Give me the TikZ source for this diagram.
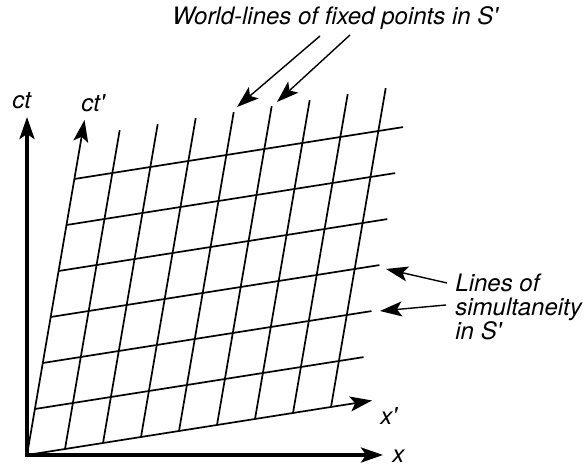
\documentclass[tikz,border=0pt]{standalone}
\usepackage{fontspec}
\setmainfont{TeX Gyre Heros}
\usetikzlibrary{arrows.meta}

\begin{document}
\begin{tikzpicture}[
    x=0.5pt,
    y=0.5pt,
    >={Stealth[length=11pt, width=7.5pt, inset=2.5pt]},
    gridline/.style={line width=0.85pt},
    axis/.style={line width=1.7pt},
    pointer/.style={line width=0.7pt},
    axislabel/.style={
        font=\fontsize{12}{12}\selectfont\itshape,
        inner sep=0pt,
        anchor=base west
    },
    note/.style={
        axislabel,
        align=left
    }
]
\useasboundingbox (0,0) rectangle (588,470);

% frame S
\coordinate (origin) at (27,15);
\coordinate (ctend) at (27,353);
\coordinate (xend) at (383,15);
% frame S'
\coordinate (ctpend) at (84.5,350);
\coordinate (xpend) at (372,69.5);

% world-lines and lines of simultaneity
\foreach \k in {1,...,8}
    \draw[gridline] (27+38*\k, 15+6*\k) -- ++(54.7,318.8);
\foreach \j in {1,...,6}
    \draw[gridline] (27+7.9*\j, 15+46*\j) -- ++(328.7,51.9);

\draw[gridline, ->] (origin) -- (ctpend);
\draw[gridline, ->] (origin) -- (xpend);
\draw[axis, <->] (ctend) |- (xend);

\node[axislabel] (ct) at (12,361) {ct};
\node[axislabel] (ctp) at (81,358) {ct\textquotesingle};
\node[axislabel] (xp) at (380,45) {x\textquotesingle};
\node[axislabel] (x) at (392,7) {x};

\node[axislabel] (title) at (172,445) {World-lines of fixed points in S\textquotesingle};
\node[note] (simnote) at (455,130) {Lines of\\simultaneity\\in S\textquotesingle};

\coordinate (wtail1) at (320,434);
\coordinate (wtip1) at (237,363);
\coordinate (wtail2) at (350,435);
\coordinate (wtip2) at (277,368);
\coordinate (stail1) at (447,187);
\coordinate (stip1) at (386,201);
\coordinate (stail2) at (446,165);
\coordinate (stip2) at (380,159);

\path[->, pointer]
    (wtail1) edge (wtip1)
    (wtail2) edge (wtip2)
    (stail1) edge (stip1)
    (stail2) edge (stip2);

\end{tikzpicture}
\end{document}
